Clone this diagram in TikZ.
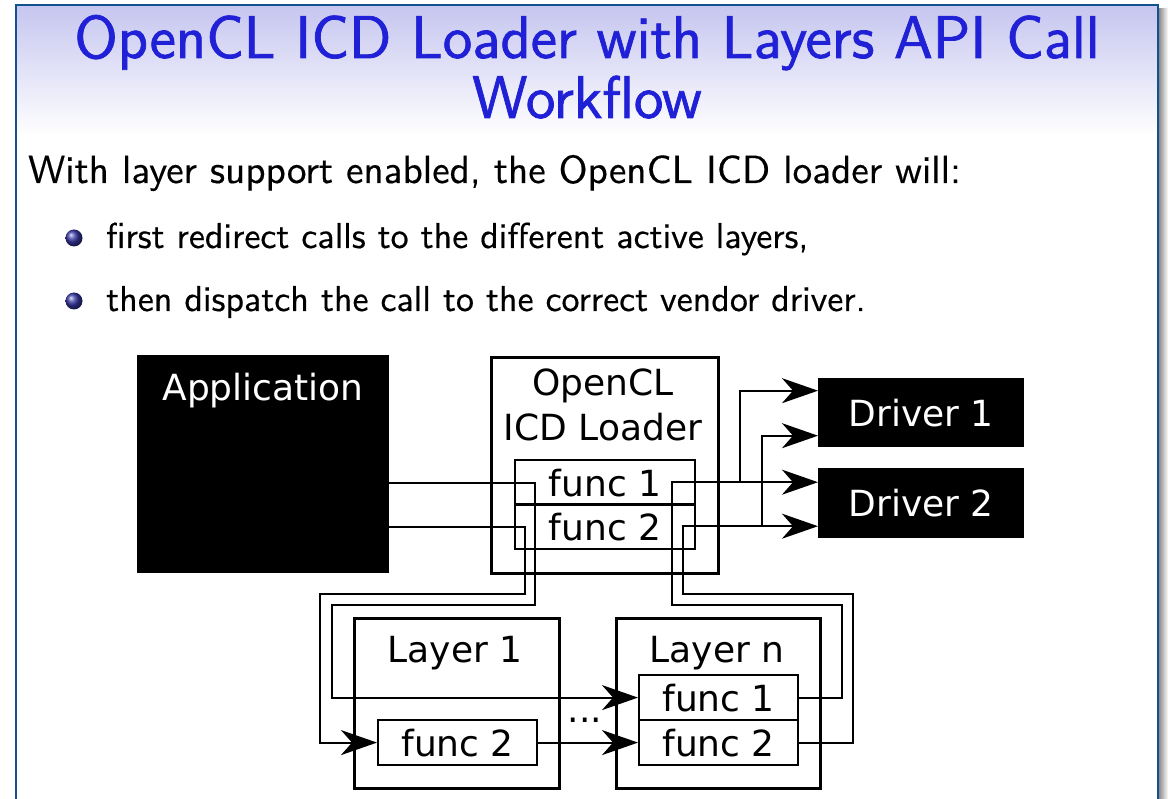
\documentclass[tikz,border=0pt]{standalone}
\usepackage{fontspec}
\newfontfamily\dfont{DejaVu Sans}
\newfontfamily\ttlfont{lmsans12-regular.otf}[FakeBold=1.2]
\newfontfamily\txtfont{lmsans10-regular.otf}[FakeBold=0.4]
\usetikzlibrary{arrows.meta, positioning, calc, shapes}
\definecolor{titleblue}{RGB}{32,32,215}
\definecolor{framecol}{RGB}{18,82,142}
\definecolor{headtop}{RGB}{198,198,240}
\definecolor{ballcol}{RGB}{55,55,165}
\newcommand{\dsize}{\dfont\fontsize{36}{45}\selectfont}

\begin{document}
\begin{tikzpicture}[x=1pt,y=-1pt,
  blk/.style={fill=black,text=white,inner sep=0pt,anchor=north west,font=\dsize},
  frm/.style={draw,line width=2.6pt,inner sep=0pt,anchor=north west},
  fn/.style={draw,line width=2.2pt,inner sep=0pt,anchor=north west,minimum height=45pt,font=\dsize},
  lbl/.style={inner sep=0pt,font=\dsize},
  ttl/.style={anchor=base,inner sep=0pt,text=titleblue,font=\ttlfont\fontsize{60.2}{61}\selectfont},
  txt/.style={anchor=base west,inner sep=0pt,font=\txtfont\fontsize{36}{40}\selectfont},
  wire/.style={line width=2pt},
  arr/.style={wire,-{Stealth[length=36pt,width=25pt,inset=11pt]}}]
\useasboundingbox (0,0) rectangle (1168,799);
\fill[white] (0,0) rectangle (1168,799);
% slide frame and title bar
\shade[top color=headtop,bottom color=white] (17,6) rectangle (1157,135);
\shade[left color=black!45,right color=white] (1159,9) rectangle (1168,799);
\draw[framecol,line width=2.5pt] (16,799) -- (16,5) -- (1158,5) -- (1158,799);
\node[ttl] (ttl1) at (587,58) {OpenCL ICD Loader with Layers API Call};
\node[ttl] (ttl2) at (587,118) {Workflow};
\node[txt,font=\txtfont\fontsize{39.2}{40}\selectfont] (intro) at (28,183) {With layer support enabled, the OpenCL ICD loader will:};
\shade[ball color=ballcol] (74,238) circle (8.5);
\node[txt] (itm1) at (106,248) {first redirect calls to the different active layers,};
\shade[ball color=ballcol] (74,301) circle (8.5);
\node[txt] (itm2) at (106,311) {then dispatch the call to the correct vendor driver.};
% application, loader, drivers
\node[blk,minimum width=252pt,minimum height=218pt] (app) at (137,355) {};
\node[lbl,text=white,anchor=base] (applbl) at (263,401) {Application};
\node[frm,minimum width=227pt,minimum height=216pt] (ldr) at (490,356) {};
\node[lbl,anchor=base] (ldrlbl1) at (603,396) {OpenCL};
\node[lbl,anchor=base] (ldrlbl2) at (603,441) {ICD Loader};
\node[fn,minimum width=180pt] (lf1) at (514,459) {func 1};
\node[fn,minimum width=180pt] (lf2) at (514,503) {func 2};
\node[blk,minimum width=206pt,minimum height=69pt] (drv1) at (818,378) {Driver 1};
\node[blk,minimum width=206pt,minimum height=70pt] (drv2) at (818,468) {Driver 2};
% layers
\node[frm,minimum width=205pt,minimum height=170pt] (lay1) at (353,617) {};
\node[lbl,anchor=base] (lay1lbl) at (455,662) {Layer 1};
\node[fn,minimum width=159pt] (l1f2) at (377,719) {func 2};
\node[frm,minimum width=204pt,minimum height=170pt] (layn) at (615,617) {};
\node[lbl,anchor=base] (laynlbl) at (717,662) {Layer n};
\node[fn,minimum width=159pt] (nf1) at (638,674) {func 1};
\node[fn,minimum width=159pt] (nf2) at (638,719) {func 2};
\node[lbl,anchor=base] (dots) at (585,722) {...};
% calls into the layers
\draw[arr] (app.east |- lf1) -| (535,605) -- (332,605) |- (nf1.west);
\draw[arr] (app.east |- lf2) -| (525,594) -- (320,594) |- (l1f2.west);
\draw[arr] (l1f2.east) -- (nf2.west);
% back to the drivers
\coordinate (j1) at (740,482);
\coordinate (j2) at (762,526);
\draw[arr] (nf1.east) -| (842,605) -- (672,605) |- ([yshift=21pt]drv2.west);
\draw[arr] (j1) |- ([yshift=22pt]drv1.west);
\draw[arr] (nf2.east) -| (853,594) -- (683,594) |- ([yshift=-23pt]drv2.west);
\draw[arr] (j2) |- ([yshift=-23pt]drv1.west);
\end{tikzpicture}
\end{document}
